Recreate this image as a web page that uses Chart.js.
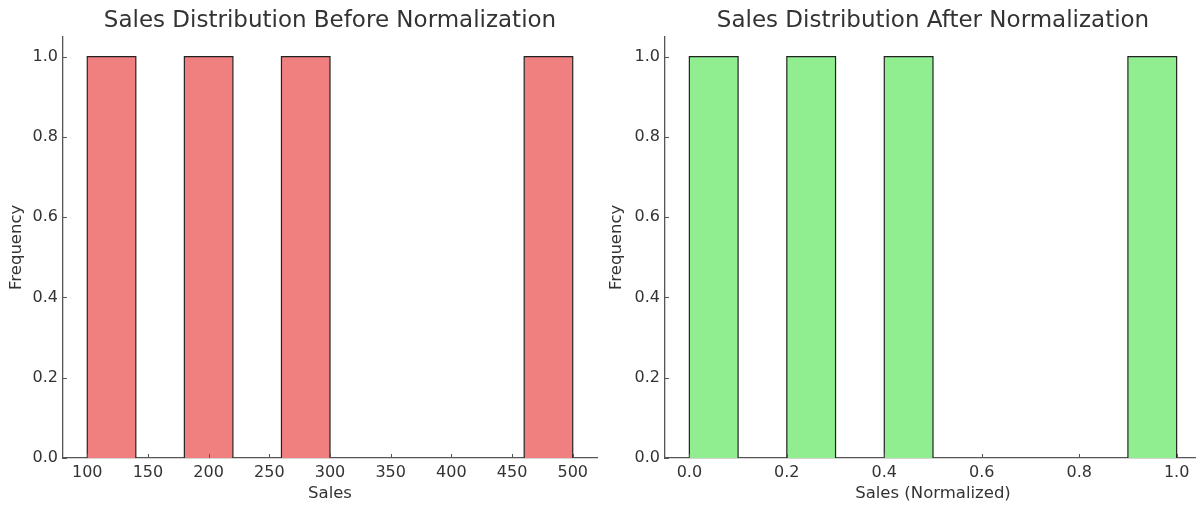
<!DOCTYPE html>
<html>
<head>
<meta charset="utf-8">
<script src="https://cdn.jsdelivr.net/npm/chart.js@4.4.0/dist/chart.umd.min.js"></script>
<style>
  html, body { margin: 0; padding: 0; background: #fff; overflow: hidden; width: 1196px; height: 508px; }
  .panel { position: absolute; top: 0; height: 508px; }
  #left { left: 0; width: 600px; }
  #right { left: 600px; width: 610px; }
</style>
</head>
<body>
<div class="panel" id="left"><canvas id="beforeChart"></canvas></div>
<div class="panel" id="right"><canvas id="afterChart"></canvas></div>
<script>
// histogram bins (10 bins each)
const binEdgesBefore = [100, 140, 180, 220, 260, 300, 340, 380, 420, 460, 500];
const countsBefore = [1, 0, 1, 0, 1, 0, 0, 0, 0, 1];
const binEdgesAfter = [0.0, 0.1, 0.2, 0.3, 0.4, 0.5, 0.6, 0.7, 0.8, 0.9, 1.0];
const countsAfter = [1, 0, 1, 0, 1, 0, 0, 0, 0, 1];

const FONT = 'DejaVu Sans';
const TEXT = '#333';
const AXIS = '#555';

// one filled outline per non-empty bin
function histDatasets(edges, counts, color) {
    const sets = [];
    counts.forEach((c, i) => {
        if (!c) return;
        const lo = edges[i], hi = edges[i + 1];
        sets.push({
            data: [{x: lo, y: 0}, {x: lo, y: c}, {x: hi, y: c}, {x: hi, y: 0}],
            showLine: true,
            fill: 'origin',
            backgroundColor: color,
            borderColor: '#222',
            borderWidth: 1.2,
            borderJoinStyle: 'miter',
            pointRadius: 0,
            tension: 0,
        });
    });
    return sets;
}

// matplotlib style ticks pointing into the plot
const innerTicks = {
    id: 'innerTicks',
    afterDraw(chart) {
        const ctx = chart.ctx, area = chart.chartArea;
        const xs = chart.scales.x, ys = chart.scales.y;
        ctx.save();
        ctx.strokeStyle = AXIS;
        ctx.lineWidth = 1;
        xs.ticks.forEach(t => {
            const px = Math.round(xs.getPixelForValue(t.value)) + 0.5;
            ctx.beginPath();
            ctx.moveTo(px, area.bottom);
            ctx.lineTo(px, area.bottom - 4);
            ctx.stroke();
        });
        ys.ticks.forEach(t => {
            const py = Math.round(ys.getPixelForValue(t.value)) + 0.5;
            ctx.beginPath();
            ctx.moveTo(area.left, py);
            ctx.lineTo(area.left + 4, py);
            ctx.stroke();
        });
        ctx.restore();
    }
};

function makeChart(id, opts) {
    return new Chart(document.getElementById(id), {
        type: 'scatter',
        data: { datasets: histDatasets(opts.edges, opts.counts, opts.color) },
        plugins: [innerTicks],
        options: {
            responsive: true,
            maintainAspectRatio: false,
            animation: false,
            layout: { padding: { left: 0, right: opts.padRight, top: 0, bottom: 0 } },
            plugins: {
                legend: { display: false },
                tooltip: { enabled: false },
                title: {
                    display: true,
                    text: opts.title,
                    fullSize: false,
                    color: TEXT,
                    font: { family: FONT, size: 23, weight: 'normal' },
                    padding: { top: 7, bottom: 2 },
                },
            },
            scales: {
                x: {
                    type: 'linear',
                    min: opts.xMin,
                    max: opts.xMax,
                    grid: { display: false, drawTicks: false },
                    border: { display: true, color: AXIS, width: 1.3 },
                    ticks: {
                        stepSize: opts.xStep,
                        includeBounds: false,
                        color: TEXT,
                        padding: 5,
                        maxRotation: 0,
                        font: { family: FONT, size: 16 },
                        callback: opts.xFormat,
                    },
                    title: {
                        display: true,
                        text: opts.xLabel,
                        color: TEXT,
                        font: { family: FONT, size: 16.5 },
                        padding: { top: 0, bottom: 4 },
                    },
                    afterFit: s => { s.height = 50; },
                },
                y: {
                    min: 0,
                    max: 1.05,
                    grid: { display: false, drawTicks: false },
                    border: { display: true, color: AXIS, width: 1.3 },
                    ticks: {
                        stepSize: 0.2,
                        includeBounds: false,
                        color: TEXT,
                        padding: 5,
                        font: { family: FONT, size: 16 },
                        callback: v => v.toFixed(1),
                    },
                    title: {
                        display: true,
                        text: 'Frequency',
                        color: TEXT,
                        font: { family: FONT, size: 16.5 },
                        padding: { top: 7, bottom: 0 },
                    },
                    afterFit: s => { s.width = opts.yWidth; },
                },
            },
        },
    });
}

makeChart('beforeChart', {
    edges: binEdgesBefore, counts: countsBefore, color: '#F08080',
    title: 'Sales Distribution Before Normalization',
    xLabel: 'Sales', xMin: 80, xMax: 520, xStep: 50,
    xFormat: v => String(v),
    yWidth: 63, padRight: 3,
});

makeChart('afterChart', {
    edges: binEdgesAfter, counts: countsAfter, color: '#90EE90',
    title: 'Sales Distribution After Normalization',
    xLabel: 'Sales (Normalized)', xMin: -0.05, xMax: 1.05, xStep: 0.2,
    xFormat: v => v.toFixed(1),
    yWidth: 65, padRight: 9,
});
</script>
</body>
</html>
